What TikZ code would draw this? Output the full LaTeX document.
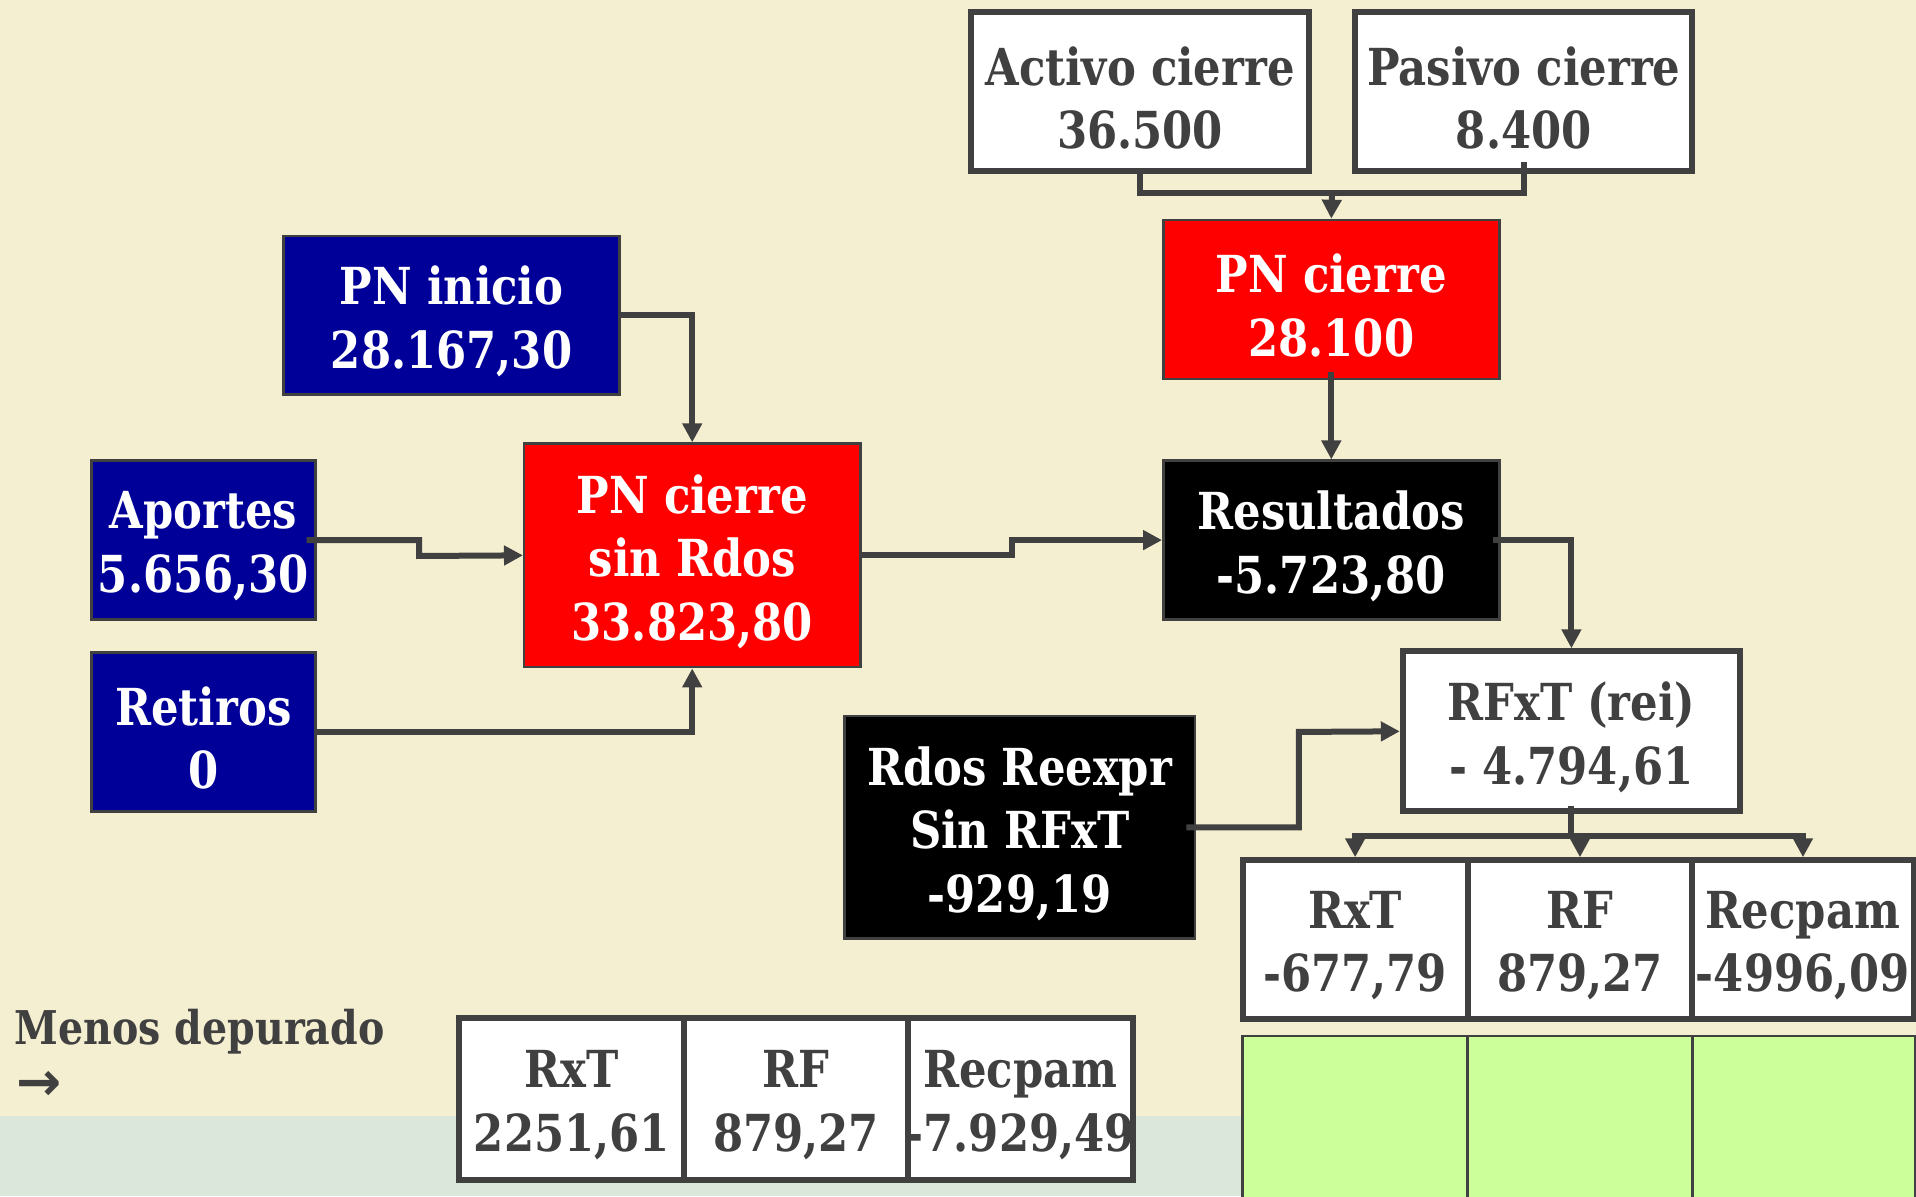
\documentclass[tikz,border=0pt]{standalone}
\usepackage{fontspec}
\setmainfont[FakeStretch=0.85]{DejaVu Serif}
\newfontfamily\arrowfont{DejaVu Sans}
\usetikzlibrary{arrows.meta,fit,calc}
\definecolor{cream}{HTML}{F5EFD1}
\definecolor{band}{HTML}{DCE7DC}
\definecolor{navy}{HTML}{000099}
\definecolor{dgray}{HTML}{404040}
\definecolor{lgreen}{HTML}{CCFF99}
\newcommand\mybox[6]{%
  \node[#2, fit={#4 #5}] (#1) {};
  \node[txt, text=#3] (#1t) at ($(#1.center)+(0,5)$) {#6};}
\begin{document}
\begin{tikzpicture}[x=1.2219pt,y=-1.2219pt,
  txt/.style={font=\bfseries\fontsize{51}{63.5}\selectfont, align=center, inner sep=0pt},
  whitebox/.style={rectangle, inner sep=0pt, draw=dgray, line width=6pt, fill=white},
  cellbox/.style={rectangle, inner sep=0pt, draw=dgray, line width=6pt, fill=white},
  navybox/.style={rectangle, inner sep=0pt, draw=dgray, line width=2.5pt, fill=navy},
  redbox/.style={rectangle, inner sep=0pt, draw=dgray, line width=2.5pt, fill=red},
  blackbox/.style={rectangle, inner sep=0pt, draw=dgray, line width=2.5pt, fill=black},
  greencell/.style={rectangle, inner sep=0pt, draw=dgray, line width=2.5pt, fill=lgreen},
  plainline/.style={draw=dgray, line width=6pt},
  conn/.style={draw=dgray, line width=6pt, -{Triangle[length=19pt,width=19pt]}}]
\useasboundingbox (0,0) rectangle (1568,979);
\fill[cream] (0,0) rectangle (1568,979);
\fill[band] (0,913) rectangle (1568,979);

\mybox{act}{whitebox}{dgray}{(795,10)}{(1071,140)}{Activo cierre\\36.500}
\mybox{pas}{whitebox}{dgray}{(1109,10)}{(1385,140)}{Pasivo cierre\\8.400}
\mybox{pnc}{redbox}{white}{(952,180)}{(1227,310)}{PN cierre\\28.100}
\mybox{pni}{navybox}{white}{(232,193)}{(507,323)}{PN inicio\\28.167,30}
\mybox{apo}{navybox}{white}{(75,377)}{(258,507)}{Aportes\\5.656,30}
\mybox{ret}{navybox}{white}{(75,534)}{(258,664)}{Retiros\\0}
\mybox{sin}{redbox}{white}{(429,363)}{(704,546)}{PN cierre\\sin Rdos\\33.823,80}
\mybox{res}{blackbox}{white}{(952,377)}{(1227,507)}{Resultados\\-5.723,80}
\mybox{rfx}{whitebox}{dgray}{(1148,533)}{(1424,664)}{RFxT (rei)\\- 4.794,61}
\mybox{rdr}{blackbox}{white}{(691,586)}{(978,768)}{Rdos Reexpr\\Sin RFxT\\-929,19}

\mybox{ta}{cellbox}{dgray}{(1017,704)}{(1201,834)}{RxT\\-677,79}
\mybox{tb}{cellbox}{dgray}{(1201,704)}{(1385,834)}{RF\\879,27}
\mybox{tc}{cellbox}{dgray}{(1385,704)}{(1566,834)}{Recpam\\-4996,09}

\node[greencell, fit={(1017,848) (1201,981)}] (ga) {};
\node[greencell, fit={(1201,848) (1385,981)}] (gb) {};
\node[greencell, fit={(1385,848) (1567,981)}] (gc) {};

\mybox{ba}{cellbox}{dgray}{(376,833)}{(560,966)}{RxT\\2251,61}
\mybox{bb}{cellbox}{dgray}{(560,833)}{(743,966)}{RF\\879,27}
\mybox{bc}{cellbox}{dgray}{(743,833)}{(927,966)}{Recpam\\-7.929,49}

\node[anchor=west, inner sep=0pt, text=dgray, font=\bfseries\fontsize{46.5}{50}\selectfont] (menos) at (12,844) {Menos depurado};
\node[anchor=west, inner sep=0pt, text=dgray, font=\arrowfont\bfseries\fontsize{54}{56}\selectfont] (arr) at (13,889) {→};

% connectors
\coordinate (j1) at (1090,158);
\draw[plainline] (act.south) |- (pas.south |- j1) -- ([yshift=12pt]pas.south);
\draw[conn] (j1) -- (pnc.north);
\draw[conn] ([yshift=8pt]pnc.south) -- (res.north);
\draw[conn] (pni.east) -| (sin.north);
\draw[conn] ([xshift=-10pt]apo.east) -| (343,455) -- (sin.west);
\draw[conn] (ret.east) -| (sin.south);
\draw[conn] (sin.east) -| (828,442) -- (res.west);
\draw[conn] ([xshift=-8pt]res.east) -| (rfx.north);
\draw[conn] ([xshift=-10pt]rdr.east) -| (1063,599) -- (rfx.west);
\coordinate (j2) at (1286,684);
\draw[plainline] ([yshift=8pt]rfx.south) -- (j2);
\draw[conn] (j2) -| (ta.north);
\draw[conn] (j2) -| (tc.north);
\draw[conn] (tb.north |- j2) -- (tb.north);
\end{tikzpicture}
\end{document}
